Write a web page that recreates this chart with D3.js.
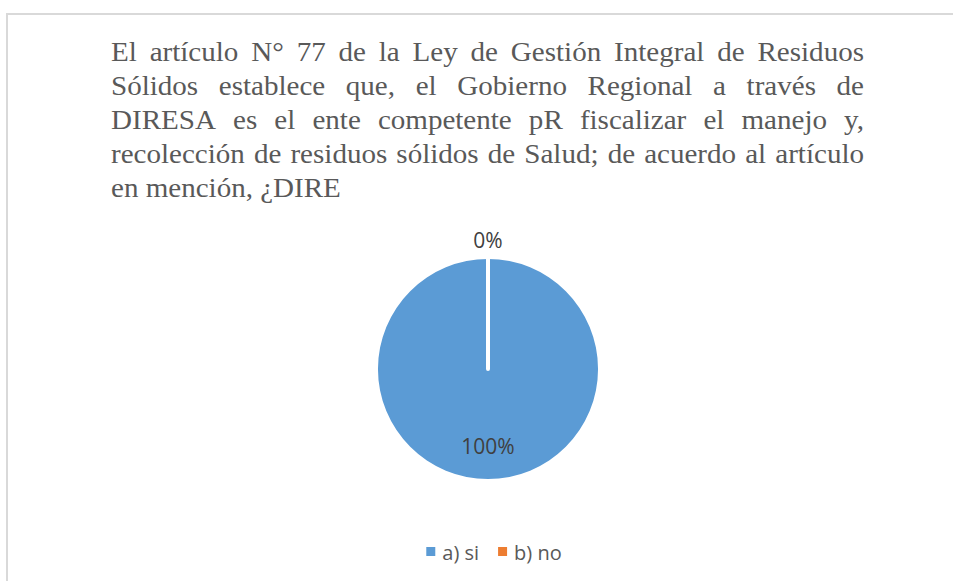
<!DOCTYPE html>
<html>
<head>
<meta charset="utf-8">
<script src="https://cdn.jsdelivr.net/npm/d3@7"></script>
<style>
  html, body { margin: 0; padding: 0; background: #fff; }
  svg { display: block; }
</style>
</head>
<body>
<svg id="chart" width="953" height="581"></svg>
<script>
const titleLines = [
  "El artículo N° 77 de la Ley de Gestión Integral de Residuos",
  "Sólidos establece que, el Gobierno Regional a través de",
  "DIRESA es el ente competente pR fiscalizar el manejo y,",
  "recolección de residuos sólidos de Salud; de acuerdo al artículo",
  "en mención, ¿DIRE"
];
const categories = ["a) si", "b) no"];
const values = [100, 0];
const colors = ["#5B9BD5", "#ED7D31"];

const svg = d3.select("#chart");
const W = 953, H = 581;

svg.append("rect").attr("x", 0).attr("y", 0).attr("width", W).attr("height", H).attr("fill", "#fff");
svg.append("rect")
  .attr("x", 7).attr("y", 14).attr("width", 1000).attr("height", 700)
  .attr("fill", "#fff").attr("stroke", "#d9d9d9").attr("stroke-width", 2);

// ---- Title (justified) ----
const tLeft = 111, tRight = 864, base0 = 61.5, pitch = 33.8, lastWidth = 230;
const tg = svg.append("g");
const fontSpec = { "font-family": "'Liberation Serif', 'Times New Roman', serif", "font-size": "28px", "fill": "#595959" };
function measure(str) {
  const t = tg.append("text").attr("x", 0).attr("y", -100).text(str);
  Object.entries(fontSpec).forEach(([k, v]) => t.attr(k, v));
  t.style("white-space", "pre");
  const w = t.node().getComputedTextLength();
  t.remove();
  return w;
}
const sx = lastWidth / measure(titleLines[titleLines.length - 1]);
tg.attr("transform", `translate(${tLeft},0) scale(${sx},1)`);
const fullW = (tRight - tLeft) / sx;
titleLines.forEach((line, i) => {
  const y = base0 + i * pitch;
  const words = line.split(" ");
  const ww = words.map(measure);
  const spaceW = measure("a a") - measure("aa");
  let gap = spaceW;
  if (i < titleLines.length - 1 && words.length > 1) {
    gap = (fullW - d3.sum(ww)) / (words.length - 1);
  }
  let x = 0;
  const t = tg.append("text").attr("y", y);
  Object.entries(fontSpec).forEach(([k, v]) => t.attr(k, v));
  words.forEach((w, j) => {
    t.append("tspan").attr("x", x).attr("y", y).text(w);
    x += ww[j] + gap;
  });
});

// ---- Pie ----
const cx = 488, cy = 369, r = 110;
const pie = d3.pie().sort(null).value(d => d.value);
const data = categories.map((c, i) => ({ cat: c, value: values[i], color: colors[i] }));
const arcs = pie(data);
const arc = d3.arc().innerRadius(0).outerRadius(r);
const pg = svg.append("g").attr("transform", `translate(${cx},${cy})`);
pg.selectAll("path.slice").data(arcs).enter().append("path")
  .attr("class", "slice")
  .attr("d", arc)
  .attr("fill", d => d.data.color)
  .attr("stroke", "#fff")
  .attr("stroke-width", d => d.data.value === 0 ? 4 : 0)
  .attr("stroke-linejoin", "round");

const total = d3.sum(values);
pg.selectAll("text.lbl").data(arcs).enter().append("text")
  .attr("class", "lbl")
  .attr("transform", d => {
    const rr = d.data.value === 0 ? r + 19 : r * 0.7;
    const c = d3.arc().innerRadius(rr).outerRadius(rr).centroid(d);
    return `translate(${c[0]},${c[1]})`;
  })
  .attr("text-anchor", "middle")
  .attr("dominant-baseline", "central")
  .attr("font-family", "'Open Sans', sans-serif")
  .attr("font-size", "21px")
  .attr("fill", "#404040")
  .text(d => Math.round(d.data.value / total * 100) + "%");

// ---- Legend ----
const lg = svg.append("g");
const legendY = 552, sq = 9, textGap = 7, itemGap = 19;
let lx = 0;
data.forEach(d => {
  const g = lg.append("g");
  g.append("rect").attr("x", lx).attr("y", legendY - 5).attr("width", sq).attr("height", sq).attr("fill", d.color);
  const t = g.append("text").attr("x", lx + sq + textGap).attr("y", legendY)
    .attr("dominant-baseline", "central")
    .attr("font-family", "'Open Sans', sans-serif").attr("font-size", "20px").attr("fill", "#595959")
    .text(d.cat);
  lx += sq + textGap + t.node().getComputedTextLength() + itemGap;
});
const lw = lx - itemGap;
lg.attr("transform", `translate(${494 - lw / 2},0)`);
</script>
</body>
</html>
